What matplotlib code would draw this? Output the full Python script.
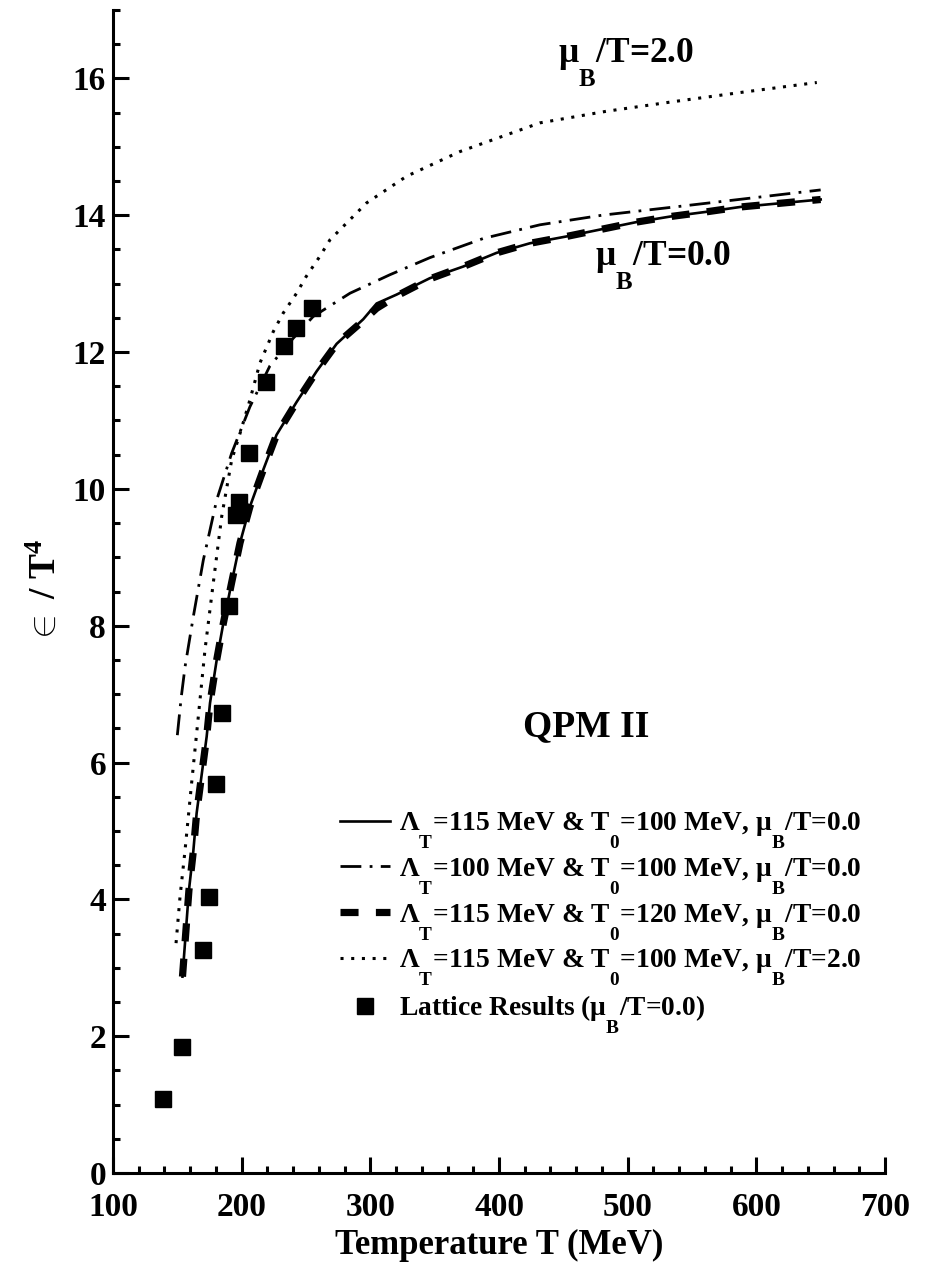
import matplotlib
matplotlib.use("Agg")
import matplotlib.pyplot as plt
import matplotlib._mathtext as mathtext_internals
from matplotlib.ticker import MultipleLocator

plt.rcParams['font.family'] = ['Liberation Serif', 'DejaVu Serif']
plt.rcParams['font.weight'] = 'bold'
plt.rcParams['axes.labelweight'] = 'bold'
plt.rcParams['mathtext.fontset'] = 'custom'
plt.rcParams['mathtext.rm'] = 'Liberation Serif:bold'
plt.rcParams['mathtext.bf'] = 'Liberation Serif:bold'
plt.rcParams['mathtext.it'] = 'Liberation Serif:bold'
plt.rcParams['mathtext.default'] = 'bf'
# drop subscripts well below the baseline, old-style
mathtext_internals.FontConstantsBase.sub1 = 1.45

# QPM II, Lambda_T=115, T0=100, mu_B/T=0
T_a = [154, 156.7, 159, 162.4, 165, 168.9, 172.8, 175.4, 180.6, 185.7, 192.2, 198.7,
       206.4, 216.8, 227.1, 242.7, 258.3, 273.8, 294.5, 304.9, 320.4, 346.3, 372.2,
       398.1, 424, 452.5, 478.4, 506.9, 532.8, 561.3, 587.2, 615.7, 650]
eps_a = [2.87, 3.55, 4.13, 4.70, 5.26, 5.82, 6.38, 6.87, 7.50, 8.03, 8.63, 9.21,
         9.74, 10.28, 10.79, 11.27, 11.72, 12.12, 12.48, 12.71, 12.84, 13.08, 13.25,
         13.45, 13.59, 13.69, 13.79, 13.90, 13.98, 14.05, 14.12, 14.17, 14.23]

# Lambda_T=100, T0=100, mu_B/T=0
T_b = [150, 153, 156, 162.4, 170.2, 180.6, 192.2, 206.4, 222, 240, 255.6, 284.2,
       315.2, 346.3, 387.7, 431.8, 480, 540.6, 600, 650]
eps_b = [6.40, 6.95, 7.40, 8.13, 8.96, 9.84, 10.52, 11.20, 11.80, 12.20, 12.52, 12.86,
         13.13, 13.38, 13.66, 13.86, 14.00, 14.13, 14.26, 14.37]

# Lambda_T=115, T0=120, mu_B/T=0
T_c = [154, 156.7, 159, 162.4, 165, 168.9, 172.8, 175.4, 180.6, 185.7, 192.2, 198.7,
       206.4, 216.8, 227.1, 242.7, 258.3, 273.8, 294.5, 304.9, 320.4, 346.3, 372.2,
       398.1, 424, 452.5, 478.4, 506.9, 532.8, 561.3, 587.2, 615.7, 650]
eps_c = [2.87, 3.55, 4.13, 4.70, 5.26, 5.82, 6.38, 6.87, 7.50, 8.03, 8.63, 9.21,
         9.74, 10.28, 10.79, 11.27, 11.72, 12.12, 12.46, 12.64, 12.82, 13.07, 13.25,
         13.45, 13.59, 13.69, 13.79, 13.90, 13.98, 14.05, 14.12, 14.17, 14.23]

# Lambda_T=115, T0=100, mu_B/T=2
T_d = [149, 152.1, 156, 161.1, 166.3, 171.5, 177.9, 184.5, 192.2, 198.7, 206.4, 214.2,
       224.6, 232.3, 242.7, 250, 260.8, 268.6, 297.1, 328.2, 369.6, 431.8, 483.6,
       535.4, 590, 647]
eps_d = [3.36, 4.04, 4.72, 5.70, 6.67, 7.65, 8.62, 9.60, 10.42, 10.81, 11.30, 11.84,
         12.30, 12.57, 12.86, 13.10, 13.40, 13.64, 14.18, 14.57, 14.93, 15.35, 15.52,
         15.66, 15.80, 15.94]

# lattice data, mu_B/T=0
T_lat = [139, 153.6, 170, 174.6, 180, 184.7, 190, 195.6, 198.1, 205.7, 218.9, 232.9,
         242.2, 254.6]
eps_lat = [1.08, 1.84, 3.26, 4.03, 5.69, 6.73, 8.29, 9.62, 9.81, 10.53, 11.56, 12.09,
           12.35, 12.65]

fig = plt.figure(figsize=(9.27, 12.81), dpi=100)
ax = fig.add_axes([0.1219, 0.0843, 0.8328, 0.9079])

ax.plot(T_a, eps_a, color='black', lw=1.9,
        label=r'Λ$_\mathbf{T}$=115 MeV & T$_\mathbf{0}$=100 MeV, μ$_\mathbf{B}$/T=0.0')
ax.plot(T_b, eps_b, color='black', lw=2.0, linestyle=(0, (7.5, 3, 1, 3)),
        label=r'Λ$_\mathbf{T}$=100 MeV & T$_\mathbf{0}$=100 MeV, μ$_\mathbf{B}$/T=0.0')
ax.plot(T_c, eps_c, color='black', lw=5.2, linestyle=(0, (2.5, 2.4)),
        label=r'Λ$_\mathbf{T}$=115 MeV & T$_\mathbf{0}$=120 MeV, μ$_\mathbf{B}$/T=0.0')
ax.plot(T_d, eps_d, color='black', lw=2.2, linestyle=(0, (1, 2.5)),
        label=r'Λ$_\mathbf{T}$=115 MeV & T$_\mathbf{0}$=100 MeV, μ$_\mathbf{B}$/T=2.0')
ax.plot(T_lat, eps_lat, 's', color='black', ms=11, linestyle='none',
        label=r'Lattice Results (μ$_\mathbf{B}$/T=0.0)')

ax.set_xlim(100, 700)
ax.set_ylim(0, 17)
ax.xaxis.set_major_locator(MultipleLocator(100))
ax.xaxis.set_minor_locator(MultipleLocator(20))
ax.yaxis.set_major_locator(MultipleLocator(2))
ax.yaxis.set_minor_locator(MultipleLocator(0.5))

for side in ['top', 'right']:
    ax.spines[side].set_visible(False)
for side in ['left', 'bottom']:
    ax.spines[side].set_linewidth(2.2)

ax.tick_params(which='both', direction='in', width=2.2, labelsize=24)
ax.tick_params(which='major', length=11.5)
ax.tick_params(which='minor', length=5)
ax.tick_params(axis='x', which='major', pad=14)
ax.tick_params(axis='y', which='major', pad=5)

ax.set_xlabel('Temperature T (MeV)', fontsize=25, labelpad=4)
ax.set_ylabel(r'$\in$ / T$^\mathbf{4}$', fontsize=27, labelpad=7)

ax.text(446, 16.24, r'μ$_\mathbf{B}$/T=2.0', fontsize=25.5, va='baseline')
ax.text(474.5, 13.27, r'μ$_\mathbf{B}$/T=0.0', fontsize=25.5, va='baseline')
ax.text(468, 6.52, 'QPM II', fontsize=27, ha='center', va='center')

ax.legend(loc='upper left', bbox_to_anchor=(0.294, 0.312), frameon=False,
          fontsize=19.8, handlelength=1.82, handletextpad=0.33, labelspacing=0.18,
          borderpad=0, borderaxespad=0, numpoints=1)

fig.savefig('out.png', dpi=100)
